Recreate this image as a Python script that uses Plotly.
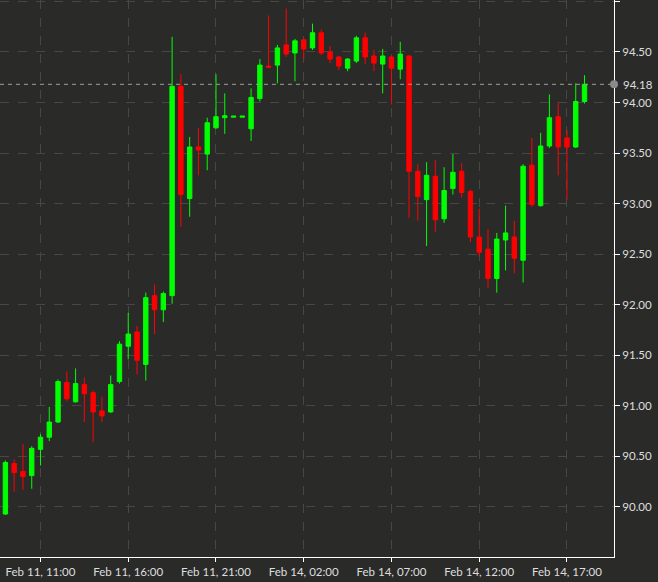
import plotly.graph_objects as go

# 30-minute candles (Fri Feb 11 09:00 - 23:30, Mon Feb 14 00:00 - 18:00)
times = [
    "Feb 11 09:00", "Feb 11 09:30", "Feb 11 10:00", "Feb 11 10:30", "Feb 11 11:00", "Feb 11 11:30",
    "Feb 11 12:00", "Feb 11 12:30", "Feb 11 13:00", "Feb 11 13:30", "Feb 11 14:00", "Feb 11 14:30",
    "Feb 11 15:00", "Feb 11 15:30", "Feb 11 16:00", "Feb 11 16:30", "Feb 11 17:00", "Feb 11 17:30",
    "Feb 11 18:00", "Feb 11 18:30", "Feb 11 19:00", "Feb 11 19:30", "Feb 11 20:00", "Feb 11 20:30",
    "Feb 11 21:00", "Feb 11 21:30", "Feb 11 22:00", "Feb 11 22:30", "Feb 11 23:00", "Feb 11 23:30",
    "Feb 14 00:00", "Feb 14 00:30", "Feb 14 01:00", "Feb 14 01:30", "Feb 14 02:00", "Feb 14 02:30",
    "Feb 14 03:00", "Feb 14 03:30", "Feb 14 04:00", "Feb 14 04:30", "Feb 14 05:00", "Feb 14 05:30",
    "Feb 14 06:00", "Feb 14 06:30", "Feb 14 07:00", "Feb 14 07:30", "Feb 14 08:00", "Feb 14 08:30",
    "Feb 14 09:00", "Feb 14 09:30", "Feb 14 10:00", "Feb 14 10:30", "Feb 14 11:00", "Feb 14 11:30",
    "Feb 14 12:00", "Feb 14 12:30", "Feb 14 13:00", "Feb 14 13:30", "Feb 14 14:00", "Feb 14 14:30",
    "Feb 14 15:00", "Feb 14 15:30", "Feb 14 16:00", "Feb 14 16:30", "Feb 14 17:00", "Feb 14 17:30",
    "Feb 14 18:00",
]

opens = [
    89.93, 90.43, 90.35, 90.31, 90.57, 90.69, 90.84, 91.23, 91.04, 91.21,
    91.13, 90.95, 90.94, 91.24, 91.59, 91.73, 91.41, 92.09, 91.95, 92.09,
    94.16, 93.05, 93.56, 93.49, 93.75, 93.85, 93.855, 93.855, 93.74, 94.04,
    94.36, 94.37, 94.57, 94.49, 94.62, 94.54, 94.69, 94.50, 94.45, 94.34,
    94.41, 94.64, 94.46, 94.38, 94.45, 94.33, 94.46, 93.32, 93.04, 93.27,
    92.85, 93.15, 93.32, 93.12, 92.67, 92.55, 92.26, 92.64, 92.67, 92.44,
    93.38, 92.98, 93.57, 93.86, 93.65, 93.56, 94.01,
]
highs = [
    90.46, 90.47, 90.62, 90.60, 90.72, 90.99, 91.26, 91.34, 91.37, 91.28,
    91.15, 91.09, 91.30, 91.64, 91.92, 91.79, 92.12, 92.20, 92.13, 94.65,
    94.28, 93.66, 93.75, 93.85, 94.28, 94.09, 93.865, 93.865, 94.14, 94.43,
    94.86, 94.57, 94.93, 94.63, 94.62, 94.78, 94.72, 94.56, 94.46, 94.44,
    94.66, 94.69, 94.52, 94.53, 94.46, 94.60, 94.47, 93.39, 93.41, 93.43,
    93.36, 93.49, 93.40, 93.14, 92.95, 92.75, 92.71, 92.98, 92.83, 93.39,
    93.65, 93.70, 94.08, 94.00, 93.73, 94.19, 94.27,
]
lows = [
    89.92, 90.15, 90.17, 90.18, 90.41, 90.65, 90.83, 91.05, 91.03, 90.84,
    90.64, 90.84, 90.93, 91.22, 91.46, 91.31, 91.25, 91.71, 91.83, 92.01,
    92.77, 92.87, 93.28, 93.33, 93.74, 93.69, 93.855, 93.855, 93.62, 94.01,
    94.35, 94.19, 94.45, 94.21, 94.43, 94.52, 94.47, 94.39, 94.32, 94.31,
    94.39, 94.38, 94.31, 94.09, 93.98, 94.23, 92.86, 92.83, 92.58, 92.72,
    92.81, 93.09, 93.06, 92.62, 92.48, 92.17, 92.12, 92.34, 92.31, 92.22,
    92.97, 92.97, 93.55, 93.28, 93.04, 93.55, 93.99,
]
closes = [
    90.44, 90.34, 90.30, 90.58, 90.69, 90.84, 91.24, 91.07, 91.22, 91.12,
    90.94, 90.90, 91.21, 91.61, 91.71, 91.45, 92.07, 91.95, 92.11, 94.16,
    93.09, 93.56, 93.53, 93.80, 93.86, 93.87, 93.865, 93.865, 94.05, 94.37,
    94.35, 94.54, 94.48, 94.61, 94.53, 94.69, 94.49, 94.43, 94.36, 94.43,
    94.64, 94.45, 94.39, 94.46, 94.34, 94.48, 93.32, 93.07, 93.28, 92.84,
    93.13, 93.31, 93.11, 92.67, 92.52, 92.26, 92.65, 92.71, 92.46, 93.37,
    92.99, 93.57, 93.85, 93.56, 93.56, 94.01, 94.18,
]

x_tick_vals = ["Feb 11 11:00", "Feb 11 16:00", "Feb 11 21:00", "Feb 14 02:00",
               "Feb 14 07:00", "Feb 14 12:00", "Feb 14 17:00"]
x_tick_text = ["Feb 11, 11:00", "Feb 11, 16:00", "Feb 11, 21:00", "Feb 14, 02:00",
               "Feb 14, 07:00", "Feb 14, 12:00", "Feb 14, 17:00"]
y_tick_vals = [90.0, 90.5, 91.0, 91.5, 92.0, 92.5, 93.0, 93.5, 94.0, 94.5, 95.0]
y_tick_text = ["90.00", "90.50", "91.00", "91.50", "92.00", "92.50", "93.00",
               "93.50", "94.00", "94.50", ""]
last_price = 94.18
last_label = "94.18"

BG = "#2a2b29"
GRID = "#474845"
FONT = dict(family="Lato, Roboto, sans-serif", size=11.5, color="#dedede")

fig = go.Figure(go.Candlestick(
    x=times, open=opens, high=highs, low=lows, close=closes,
    increasing=dict(line=dict(color="#00ff00", width=1), fillcolor="#00ff00"),
    decreasing=dict(line=dict(color="#ff0000", width=1), fillcolor="#ff0000"),
    whiskerwidth=0, showlegend=False, hoverinfo="skip",
))

fig.update_layout(
    width=658, height=582,
    margin=dict(l=0, r=44, t=0, b=25),
    paper_bgcolor=BG, plot_bgcolor=BG,
    font=FONT,
    boxgap=0.5, boxgroupgap=0,
    showlegend=False,
)
fig.update_xaxes(
    type="category", range=[-0.615, 69.36],
    rangeslider=dict(visible=False),
    tickmode="array", tickvals=x_tick_vals, ticktext=x_tick_text,
    showgrid=True, gridcolor=GRID, griddash="dash", gridwidth=1,
    showline=True, linecolor="#ffffff", linewidth=1,
    ticks="outside", ticklen=4, tickcolor="#ffffff",
    tickfont=FONT, zeroline=False, fixedrange=True,
)
fig.update_yaxes(
    side="right", range=[89.505, 95.014],
    tickmode="array", tickvals=y_tick_vals, ticktext=y_tick_text,
    showgrid=True, gridcolor=GRID, griddash="dash", gridwidth=1,
    showline=True, linecolor="#ffffff", linewidth=1,
    ticks="outside", ticklen=5, tickcolor="#ffffff",
    tickfont=FONT, zeroline=False, fixedrange=True,
)

fig.add_shape(type="line", xref="paper", yref="y", x0=0, x1=1,
              y0=last_price, y1=last_price,
              line=dict(color="#9c9c9c", width=1, dash="4px,4px"))
fig.add_shape(type="circle", xref="paper", yref="y",
              xsizemode="pixel", ysizemode="pixel",
              xanchor=1, yanchor=last_price, x0=-4, x1=4, y0=-4, y1=4,
              fillcolor="#8a8a8a", line=dict(width=0))
fig.add_annotation(x=1, xref="paper", y=last_price, yref="y", text=last_label,
                   showarrow=False, xanchor="left", yanchor="middle", xshift=7,
                   font=FONT)

fig.write_html(
    "out.html",
    config={"displayModeBar": False},
    post_script="document.body.style.margin='0';document.body.style.overflow='hidden';",
)
